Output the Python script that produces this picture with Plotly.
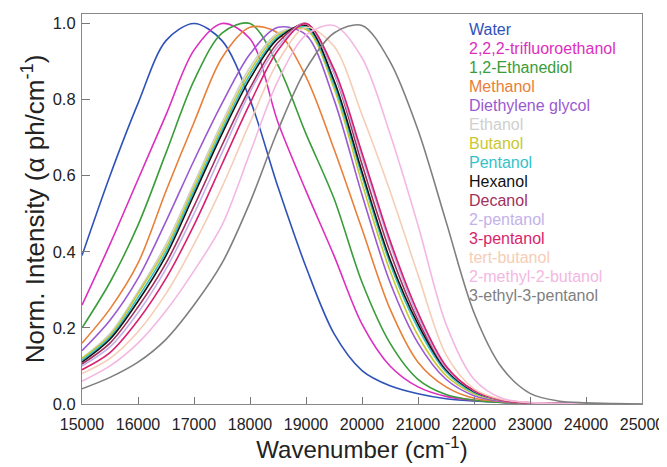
import plotly.graph_objects as go

wavenumber = [15000, 15500, 16000, 16500, 17000, 17500, 18000, 18500, 19000, 19500,
              20000, 20500, 21000, 21500, 22000, 22500, 23000, 23500, 24000, 24500, 25000]

solvents = ["Water", "2,2,2-trifluoroethanol", "1,2-Ethanediol", "Methanol", "Diethylene glycol",
            "Ethanol", "Butanol", "Pentanol", "Hexanol", "Decanol", "2-pentanol", "3-pentanol",
            "tert-butanol", "2-methyl-2-butanol", "3-ethyl-3-pentanol"]

colors = ["#2f52b8", "#dc2fc0", "#3a9c3a", "#e8803a", "#9a5ad2", "#cfcfcf", "#c9c830", "#33c2c9",
          "#111111", "#a3305c", "#c3b2ea", "#d91f6c", "#f6cdb6", "#f3b8e2", "#7f7f7f"]

water       = [0.39, 0.60, 0.79, 0.955, 1.00, 0.955, 0.80, 0.57, 0.36, 0.185, 0.088, 0.048, 0.027, 0.014, 0.008, 0.004, 0.002, 0.001, 0.001, 0.0, 0.0]
tfe         = [0.26, 0.42, 0.59, 0.76, 0.93, 1.00, 0.96, 0.74, 0.56, 0.39, 0.21, 0.10, 0.045, 0.02, 0.01, 0.005, 0.002, 0.001, 0.0, 0.0, 0.0]
ethanediol  = [0.20, 0.32, 0.47, 0.66, 0.85, 0.975, 1.00, 0.89, 0.71, 0.54, 0.32, 0.16, 0.065, 0.025, 0.01, 0.004, 0.002, 0.001, 0.0, 0.0, 0.0]
methanol    = [0.16, 0.25, 0.37, 0.56, 0.74, 0.91, 0.99, 0.975, 0.86, 0.67, 0.46, 0.25, 0.11, 0.045, 0.015, 0.006, 0.002, 0.001, 0.0, 0.0, 0.0]
deg         = [0.14, 0.22, 0.33, 0.48, 0.64, 0.79, 0.92, 0.99, 0.97, 0.80, 0.55, 0.32, 0.16, 0.065, 0.022, 0.007, 0.003, 0.001, 0.0, 0.0, 0.0]
ethanol     = [0.12, 0.185, 0.295, 0.42, 0.58, 0.74, 0.885, 0.975, 0.985, 0.84, 0.60, 0.37, 0.20, 0.085, 0.03, 0.01, 0.003, 0.001, 0.0, 0.0, 0.0]
butanol     = [0.12, 0.18, 0.29, 0.41, 0.57, 0.73, 0.875, 0.97, 0.985, 0.83, 0.58, 0.35, 0.18, 0.075, 0.027, 0.009, 0.003, 0.001, 0.0, 0.0, 0.0]
pentanol    = [0.115, 0.175, 0.28, 0.40, 0.56, 0.72, 0.865, 0.965, 0.99, 0.84, 0.60, 0.37, 0.20, 0.085, 0.03, 0.01, 0.003, 0.001, 0.0, 0.0, 0.0]
hexanol     = [0.11, 0.17, 0.27, 0.39, 0.55, 0.71, 0.855, 0.96, 0.995, 0.85, 0.61, 0.38, 0.21, 0.09, 0.033, 0.01, 0.003, 0.001, 0.0, 0.0, 0.0]
decanol     = [0.105, 0.16, 0.255, 0.37, 0.52, 0.68, 0.83, 0.95, 1.00, 0.87, 0.63, 0.40, 0.22, 0.095, 0.035, 0.01, 0.003, 0.001, 0.0, 0.0, 0.0]
pentanol_2  = [0.10, 0.15, 0.24, 0.355, 0.50, 0.66, 0.82, 0.94, 1.00, 0.87, 0.65, 0.42, 0.23, 0.095, 0.035, 0.01, 0.003, 0.001, 0.0, 0.0, 0.0]
pentanol_3  = [0.09, 0.135, 0.22, 0.33, 0.47, 0.63, 0.79, 0.93, 1.00, 0.88, 0.66, 0.43, 0.24, 0.10, 0.035, 0.01, 0.003, 0.001, 0.0, 0.0, 0.0]
tert_butanol = [0.08, 0.12, 0.19, 0.29, 0.42, 0.57, 0.74, 0.90, 0.99, 0.94, 0.76, 0.56, 0.34, 0.13, 0.04, 0.012, 0.004, 0.001, 0.0, 0.0, 0.0]
methyl_butanol = [0.06, 0.10, 0.16, 0.245, 0.35, 0.47, 0.66, 0.85, 0.97, 0.995, 0.91, 0.71, 0.47, 0.21, 0.065, 0.015, 0.004, 0.001, 0.0, 0.0, 0.0]
ethyl_pentanol = [0.04, 0.07, 0.11, 0.17, 0.26, 0.37, 0.53, 0.72, 0.88, 0.975, 0.995, 0.90, 0.72, 0.48, 0.24, 0.095, 0.028, 0.008, 0.003, 0.001, 0.0]

series = [water, tfe, ethanediol, methanol, deg, ethanol, butanol, pentanol, hexanol, decanol,
          pentanol_2, pentanol_3, tert_butanol, methyl_butanol, ethyl_pentanol]

x_ticks = [15000, 16000, 17000, 18000, 19000, 20000, 21000, 22000, 23000, 24000, 25000]
y_ticks = [0.0, 0.2, 0.4, 0.6, 0.8, 1.0]

fig = go.Figure()
for name, ys, c in zip(solvents, series, colors):
    fig.add_trace(go.Scatter(x=wavenumber, y=ys, mode="lines", name=name,
                             line=dict(color=c, width=1.6, shape="spline", smoothing=0.9),
                             showlegend=False))

font = "Liberation Sans, Arial, sans-serif"

# text legend
for i, (name, c) in enumerate(zip(solvents, colors)):
    fig.add_annotation(xref="paper", yref="paper", x=0.687, y=0.959 - i * 0.0486,
                       text=name, showarrow=False, xanchor="left", yanchor="middle",
                       font=dict(size=16, color=c, family=font))

fig.update_layout(
    width=659, height=459,
    margin=dict(l=74, r=25, t=6, b=63),
    paper_bgcolor="white", plot_bgcolor="white",
    font=dict(family=font, color="#222"),
    xaxis=dict(range=[15000, 25000], tickvals=x_ticks, ticktext=[str(v) for v in x_ticks],
               ticks="inside", ticklen=7, tickcolor="#777", showline=True, linecolor="#888",
               linewidth=1.2, mirror=True, showgrid=False, zeroline=False, automargin=False,
               tickfont=dict(size=16, family=font, color="#222"), ticklabelstandoff=6,
               title=dict(text="Wavenumber (cm<sup>-1</sup>)", font=dict(size=24, family=font, color="#222"),
                          standoff=8)),
    yaxis=dict(range=[0, 1.025], tickvals=y_ticks, ticktext=["0.0", "0.2", "0.4", "0.6", "0.8", "1.0"],
               ticks="inside", ticklen=8, tickcolor="#777", showline=True, linecolor="#888",
               linewidth=1.2, mirror=True, showgrid=False, zeroline=False, automargin=False,
               tickfont=dict(size=16.5, family=font, color="#222"), ticklabelstandoff=2,
               title=dict(text="Norm. Intensity (α ph/cm<sup>-1</sup>)", font=dict(size=26, family=font, color="#222"),
                          standoff=0)),
)

fig.write_html("out.html")
